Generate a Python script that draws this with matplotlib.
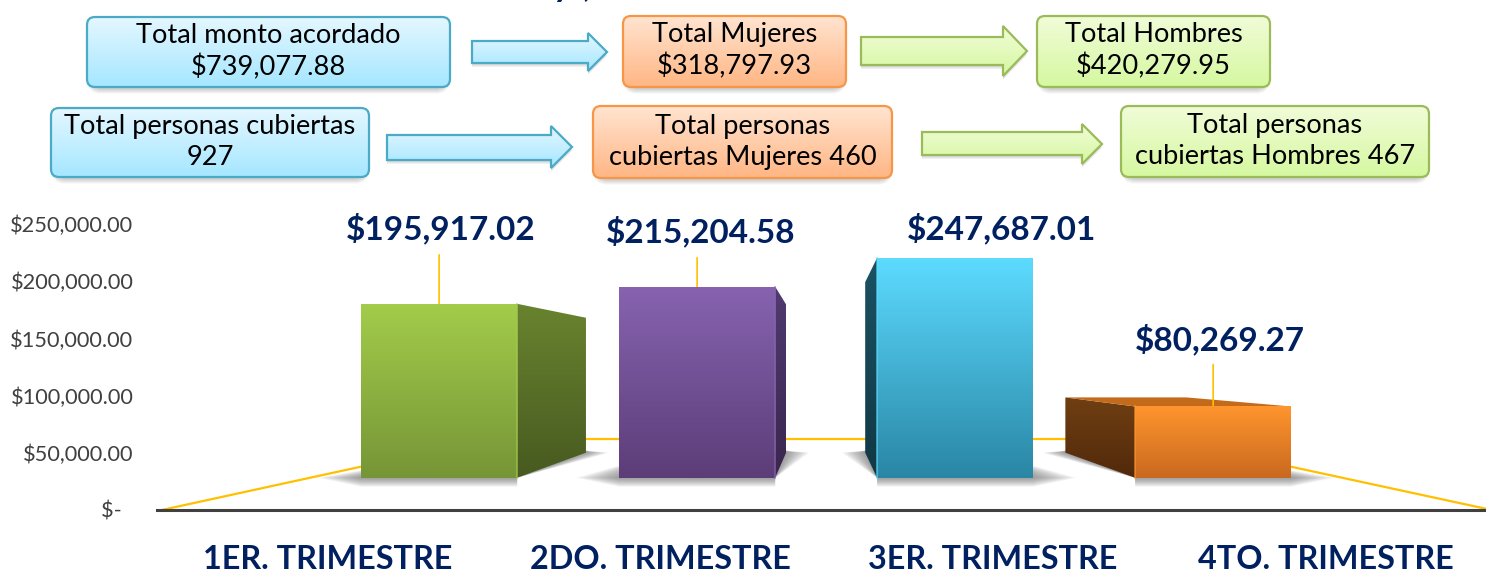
import numpy as np
import matplotlib
matplotlib.use('Agg')
import matplotlib.pyplot as plt
from matplotlib.patches import FancyBboxPatch, Polygon
from matplotlib.colors import LinearSegmentedColormap

plt.rcParams['font.family'] = ['Lato', 'DejaVu Sans']

# ---- Datos ----
TRIMESTRES = ['1ER. TRIMESTRE', '2DO. TRIMESTRE', '3ER. TRIMESTRE', '4TO. TRIMESTRE']
MONTOS = [195917.02, 215204.58, 247687.01, 80269.27]
MONTOS_TXT = ['$195,917.02', '$215,204.58', '$247,687.01', '$80,269.27']
TICKS = [0, 50000, 100000, 150000, 200000, 250000]
TICKS_TXT = ['$-  ', '$50,000.00', '$100,000.00', '$150,000.00', '$200,000.00', '$250,000.00']
CAJAS_TXT = ['Total monto acordado\n$739,077.88', 'Total Mujeres\n$318,797.93', 'Total Hombres\n$420,279.95',
             'Total personas cubiertas\n927', 'Total personas\ncubiertas Mujeres 460',
             'Total personas\ncubiertas Hombres 467']

# ---- Estilo ----
W, H = 1486, 569
AZUL = '#002060'
AMARILLO = '#FFC000'
PX_VALOR = 874.1                # valor por pixel en el eje y
VP_X = (824 - 328) / 332.5      # punto de fuga
VP_Y = (510 - 366) * PX_VALOR
K_FRENTE = 0.776
K_FONDO = 0.602
K_PARED = 0.507
ANCHO = 0.605

COL_FRENTE = [('#A3CC4A', '#769537'), ('#8763B0', '#5C3D78'), ('#5CDBFF', '#2A86A5'), ('#FF952E', '#C9691F')]
COL_LADO = [('#68832F', '#485A20'), ('#503A70', '#3A264E'), ('#1B5263', '#113845'), ('#703F12', '#51290B')]
COL_TECHO = '#C46A1B'

# dx, dy del rotulo respecto a la cara frontal, en pixeles
ROTULO_OFF = [(2, 75), (4, 55), (46, 29), (7, 67)]
# largo de la linea guia
GUIA = [49, 29, 0, 42]

# x0, x1, y0, y1
CAJAS = [(87, 450, 17, 87), (623, 846, 16, 87), (1037, 1270, 16, 87),
         (51, 369, 108, 177), (593, 892, 106, 178), (1121, 1429, 106, 177)]
CAJA_COL = [('#E4F7FF', '#A5E7FF', '#4BAAC6'), ('#FFE4D0', '#FFB684', '#F79646'), ('#F1FCD8', '#D5F8A0', '#9BBB59')]
CAJA_TIPO = [0, 1, 2, 0, 1, 2]
# x0, x cabeza, x punta, y0 cuerpo, y1 cuerpo, y0 cabeza, y1 cabeza
FLECHAS = [(472, 588, 607, 41, 63, 33, 71, 0), (861, 1003, 1027, 37, 65, 26, 76, 2),
           (387, 551, 572, 135, 160, 126, 168, 0), (922, 1082, 1102, 132, 155, 124, 164, 2)]


def proy(x, y, k):
    return VP_X + k * (x - VP_X), VP_Y + k * (y - VP_Y)


def degradado(eje, puntos, c1, c2, z):
    puntos = np.array(puntos)
    cmap = LinearSegmentedColormap.from_list('g', [c1, c2])
    x0, x1 = puntos[:, 0].min(), puntos[:, 0].max()
    y0, y1 = puntos[:, 1].min(), puntos[:, 1].max()
    if eje.yaxis_inverted():
        ext = (x0, x1, y1, y0)
    else:
        ext = (x0, x1, y0, y1)
    im = eje.imshow(np.linspace(0, 1, 128)[:, None], cmap=cmap, extent=ext, aspect='auto', zorder=z)
    return im


fig = plt.figure(figsize=(W / 100, H / 100), dpi=100)
ax = fig.add_axes([157 / W, (H - 510) / H, (W - 157) / W, 510 / H])
ax.patch.set_alpha(0)

# ---- Piso y pared en amarillo ----
xi, xd = -0.5, 3.5
esq = [(xi, 0), proy(xi, 0, K_PARED), proy(xd, 0, K_PARED), (xd, 0)]
ax.plot([p[0] for p in esq], [p[1] for p in esq], color=AMARILLO, lw=1.6, zorder=1, clip_on=False)

# ---- Barras ----
for i, v in enumerate(MONTOS):
    xa, xb = i - ANCHO / 2, i + ANCHO / 2
    fa = proy(xa, 0, K_FRENTE)
    fb = proy(xb, 0, K_FRENTE)
    fc = proy(xb, v, K_FRENTE)
    fd = proy(xa, v, K_FRENTE)
    ba = proy(xa, 0, K_FONDO)
    bb = proy(xb, 0, K_FONDO)
    bc = proy(xb, v, K_FONDO)
    bd = proy(xa, v, K_FONDO)
    derecha = fb[0] < VP_X      # se ve la cara derecha

    # sombra difusa, termina en punta hacia los lados
    for s in np.linspace(1, 0.1, 12):
        df = 0.13 * s
        db = 0.07 * s
        dy = 9 * PX_VALOR * s
        som = [(fa[0] - (df if derecha else 0), fa[1]), (fa[0], fa[1] - dy), (fb[0], fb[1] - dy),
               (fb[0] + (0 if derecha else df), fb[1]),
               (bb[0] + (db if derecha else 0), bb[1]), (bb[0], bb[1] + 2 * PX_VALOR),
               (ba[0], ba[1] + 2 * PX_VALOR), (ba[0] - (0 if derecha else db), ba[1])]
        ax.add_patch(Polygon(som, closed=True, fc='#404040', ec='none', alpha=0.05, zorder=2))

    if derecha:
        lado = [fb, bb, bc, fc]
    else:
        lado = [fa, ba, bd, fd]
    im = degradado(ax, lado, COL_LADO[i][0], COL_LADO[i][1], 3)
    im.set_clip_path(Polygon(lado, closed=True, transform=ax.transData))

    if v < VP_Y:
        ax.add_patch(Polygon([fd, fc, bc, bd], closed=True, fc=COL_TECHO, ec='none', zorder=3))

    frente = [fa, fb, fc, fd]
    im = degradado(ax, frente, COL_FRENTE[i][0], COL_FRENTE[i][1], 4)
    im.set_clip_path(Polygon(frente, closed=True, transform=ax.transData))

    # brillo en el canto
    canto = fb[0] if derecha else fa[0]
    ax.plot([canto, canto], [fa[1], fd[1]], color=COL_FRENTE[i][0], lw=1.2, alpha=0.7, zorder=5)

    # linea guia y rotulo
    cx, cy = proy(i, v, K_FRENTE)
    if GUIA[i] > 0:
        ax.annotate('', xy=(cx, cy), xytext=(0, GUIA[i]), textcoords='offset pixels',
                    arrowprops=dict(arrowstyle='-', color=AMARILLO, lw=1.2, shrinkA=0, shrinkB=0), zorder=3)
    ax.annotate(MONTOS_TXT[i], xy=(cx, cy), xytext=ROTULO_OFF[i], textcoords='offset pixels',
                ha='center', va='center', fontsize=24, fontweight='bold', color=AZUL, zorder=6)

ax.set_xlim((157 - 328) / 332.5, (W - 328) / 332.5)
ax.set_ylim(0, 510 * PX_VALOR)

ax.set_yticks(TICKS)
ax.set_yticklabels(TICKS_TXT, fontsize=15.7, color='#404040')
ax.set_xticks(range(len(TRIMESTRES)))
ax.set_xticklabels(TRIMESTRES, fontsize=23.3, fontweight='bold', color=AZUL)
ax.tick_params(axis='y', length=0, pad=17)
ax.tick_params(axis='x', length=0, pad=25)
for lado_ax in ['top', 'left', 'right']:
    ax.spines[lado_ax].set_visible(False)
ax.spines['bottom'].set_color('#404040')
ax.spines['bottom'].set_linewidth(2.2)

# ---- Cajas y flechas de totales ----
top = fig.add_axes([0, 0, 1, 1])
top.patch.set_alpha(0)
top.axis('off')
top.set_xlim(0, W)
top.set_ylim(H, 0)

for (x0, x1, y0, y1), txt, t in zip(CAJAS, CAJAS_TXT, CAJA_TIPO):
    c1, c2, borde = CAJA_COL[t]
    for s in np.linspace(5, 0, 6):
        top.add_patch(FancyBboxPatch((x0 + 8 - s / 2, y0 + 8), x1 - x0 - 16 + s, y1 - y0 - 16 + 4 + s,
                                     boxstyle='round,pad=0,rounding_size=8', mutation_aspect=1,
                                     fc='#404040', ec='#404040', lw=8, alpha=0.05, zorder=1))
    im = degradado(top, [(x0, y0), (x1, y1)], c1, c2, 2)
    caja = FancyBboxPatch((x0, y0), x1 - x0, y1 - y0, boxstyle='round,pad=0,rounding_size=8',
                          fc='none', ec=borde, lw=1.6, zorder=3)
    top.add_patch(caja)
    im.set_clip_path(caja)
    top.text((x0 + x1) / 2, (y0 + y1) / 2 - 0.5, txt, ha='center', va='center', fontsize=19.6, color='black',
             linespacing=1.3, zorder=4)

for x0, xc, xp, y0, y1, yc0, yc1, t in FLECHAS:
    c1, c2, borde = CAJA_COL[t]
    ym = (yc0 + yc1) / 2
    pts = [(x0, y0), (xc, y0), (xc, yc0), (xp, ym), (xc, yc1), (xc, y1), (x0, y1)]
    for s in np.linspace(4, 1, 4):
        top.add_patch(Polygon([(a, b + s) for a, b in pts], closed=True, fc='#404040', ec='none', alpha=0.07, zorder=1))
    im = degradado(top, pts, c1, c2, 2)
    fl = Polygon(pts, closed=True, fc='none', ec=borde, lw=1.6, zorder=3)
    top.add_patch(fl)
    im.set_clip_path(fl)

# resto del titulo, cortado por el borde
top.text(553, -14, 'y', fontsize=25, fontweight='bold', color=AZUL, ha='left', va='center', clip_on=True)
top.text(583, -14, ',', fontsize=25, fontweight='bold', color=AZUL, ha='left', va='center', clip_on=True)

top.set_xlim(0, W)
top.set_ylim(H, 0)

fig.savefig('out.png', dpi=100)
